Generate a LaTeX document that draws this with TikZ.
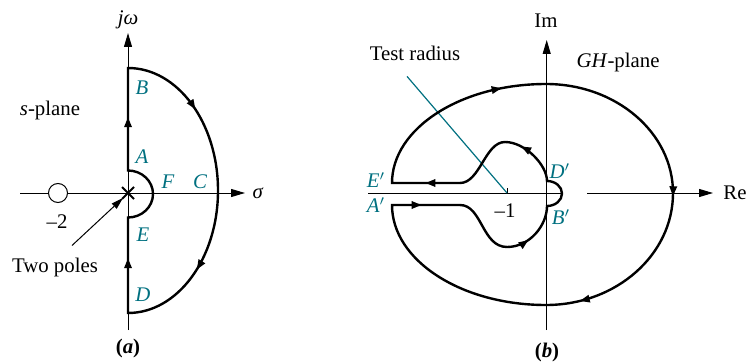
\documentclass[tikz,border=0pt]{standalone}
\usepackage{fontspec}
\setmainfont{Liberation Serif}
\usetikzlibrary{arrows.meta, decorations.markings, calc}
\definecolor{labelteal}{RGB}{0,112,128}

\begin{document}
\begin{tikzpicture}[
    x=0.5pt, y=-0.5pt,
    font=\fontsize{10.4}{12}\selectfont,
    >={Triangle[length=7pt,width=4pt]},
    axisline/.style = {draw, line width=0.5pt, ->},
    contourline/.style = {draw, line width=1.2pt, line join=miter},
    flow/.style = {postaction={decorate, decoration={markings, mark=at position #1 with {\arrow{Triangle[length=5pt,width=3.6pt]}}}}},
    lbl/.style = {text=labelteal, font=\fontsize{10.4}{12}\selectfont\itshape},
    zero/.style = {circle, draw, line width=0.5pt, fill=white, inner sep=0pt, minimum size=9.5pt},
    testline/.style = {draw=labelteal, line width=0.6pt}
]
    \useasboundingbox (0,0) rectangle (747,363);

    % (a) s-plane
    \coordinate (O) at (128,193);
    \draw [axisline] (128,330) -- (128,33);
    \draw [axisline] (20,193) -- (245,193);
    \node (jw) at (128,20) {\textit{jω}};
    \node (sigma) at (258,193) {\textit{σ}};
    \node (splane) at (50,110) {\textit{s}-plane};
    \node [zero] (zeroa) at (58,193) {};
    \node (m2) at (57,222) {–2};
    \draw [line width=0.9pt] (O) ++(-6,-6) -- ++(12,12) (O) ++(-6,6) -- ++(12,-12);
    \draw [contourline, flow=0.090, flow=0.369, flow=0.585, flow=0.861]
        (128,313) -- (128,217.5) arc[start angle=90, end angle=-90, x radius=25, y radius=23.5]
        -- (128,68) arc[start angle=-90, end angle=90, x radius=90, y radius=122.5] -- cycle;
    \node [lbl] (B) at (142,88) {B};
    \node [lbl] (A) at (142,157) {A};
    \node [lbl] (F) at (168,182) {F};
    \node [lbl] (C) at (200,182) {C};
    \node [lbl] (E) at (143,235) {E};
    \node [lbl] (D) at (143,295) {D};
    \node (poles) at (55,267) {Two poles};
    \draw [line width=0.5pt, -{Triangle[length=6pt,width=3.5pt]}] ([shift={(17,-5)}]poles.north) -- ([shift={(-5,5)}]O);
    \node (capa) at (128,348) {\textbf{(\textit{a})}};

    % (b) GH-plane
    \coordinate (P) at (546.7,193);
    \draw [axisline] (546.7,330) -- (546.7,40);
    \draw [line width=0.5pt] (368,193) -- (563,193);
    \draw [axisline] (587,193) -- (713,193);
    \node (im) at (546,21) {Im};
    \node (re) at (735,193) {Re};
    \node (gh) at (618,63) {\textit{GH}-plane};
    \node (test) at (415,53) {Test radius};
    \coordinate (m1) at (507,193);
    \draw [line width=0.5pt] (m1) -- ++(0,-5);
    \node (m1lbl) at (505,211) {–1};
    \draw [testline] ([shift={(-8,9)}]test.south) -- (m1);
    \draw [contourline, flow=0.038, flow=0.246, flow=0.502, flow=0.667, flow=0.958]
        (460,183) -- (392,183)
        arc[start angle=180, end angle=270, x radius=154, y radius=99]
        arc[start angle=270, end angle=360, x radius=127, y radius=109]
        arc[start angle=0, end angle=90, x radius=127, y radius=112]
        arc[start angle=90, end angle=180, x radius=154, y radius=100]
        -- (460,205);
    \draw [contourline, flow=0.30, flow=0.73]
        (460,205) .. controls (482,205) and (482,247) .. (507,247)
        .. controls (530,247) and (547,225) .. (547,206)
        arc[start angle=90, end angle=-90, x radius=15, y radius=12.5]
        .. controls (547,165) and (525,142) .. (505,142)
        .. controls (485,142) and (480,183) .. (460,183);
    \node [lbl] (Ep) at (376,180) {E$'$};
    \node [lbl] (Ap) at (376,205) {A$'$};
    \node [lbl] (Dp) at (560,171) {D$'$};
    \node [lbl] (Bp) at (561,217) {B$'$};
    \node (capb) at (547,352) {\textbf{(\textit{b})}};
\end{tikzpicture}
\end{document}
